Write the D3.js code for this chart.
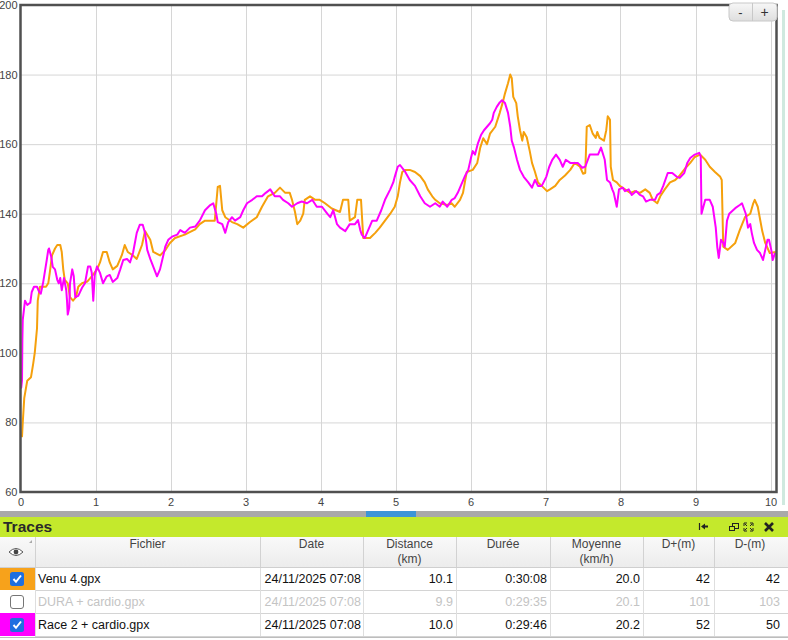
<!DOCTYPE html>
<html>
<head>
<meta charset="utf-8">
<script src="https://cdn.jsdelivr.net/npm/d3@7"></script>
<style>
  html, body { margin: 0; padding: 0; background: #fff; }
  svg { display: block; font-family: Arial, "Liberation Sans", sans-serif; }
</style>
</head>
<body>
<svg id="chart" width="788" height="640"></svg>
<script>
// ---------------- DATA ----------------
const yTicks = [60, 80, 100, 120, 140, 160, 180, 200];
const xTicks = [0, 1, 2, 3, 4, 5, 6, 7, 8, 9, 10];

// Venu 4.gpx (orange) – distance (km) / heart rate
const venuKm = [0.00,0.02,0.03,0.05,0.09,0.14,0.17,0.19,0.22,0.23,0.26,0.34,0.37,0.39,0.42,0.46,0.49,0.53,0.55,0.57,0.59,0.63,0.66,0.70,0.74,0.77,0.82,0.89,0.95,1.02,1.06,1.10,1.15,1.19,1.23,1.29,1.35,1.39,1.43,1.50,1.55,1.62,1.66,1.73,1.77,1.86,1.93,1.99,2.06,2.19,2.33,2.39,2.46,2.59,2.63,2.66,2.69,2.73,2.82,2.89,2.97,3.06,3.15,3.22,3.30,3.39,3.46,3.53,3.59,3.62,3.66,3.69,3.73,3.77,3.79,3.86,3.93,3.99,4.06,4.15,4.26,4.30,4.37,4.39,4.46,4.49,4.54,4.57,4.66,4.73,4.79,4.86,4.93,4.99,5.03,5.06,5.09,5.13,5.19,5.26,5.33,5.39,5.43,5.49,5.53,5.59,5.69,5.75,5.79,5.86,5.90,5.93,5.95,6.03,6.09,6.13,6.17,6.22,6.26,6.33,6.39,6.43,6.46,6.50,6.53,6.55,6.57,6.61,6.63,6.66,6.69,6.71,6.75,6.79,6.82,6.86,6.90,6.95,7.02,7.06,7.13,7.19,7.26,7.33,7.39,7.46,7.50,7.53,7.55,7.59,7.63,7.67,7.69,7.72,7.78,7.81,7.83,7.86,7.87,7.90,7.95,7.99,8.06,8.13,8.19,8.26,8.33,8.39,8.43,8.49,8.53,8.59,8.66,8.73,8.79,8.86,8.93,8.99,9.06,9.13,9.19,9.26,9.33,9.35,9.37,9.43,9.53,9.59,9.66,9.73,9.77,9.79,9.83,9.89,9.93,9.99,10.07];
const venuHr = [76,76,80,87,92,93,97,100,107,115,119,119,120,123,128,130,131,131,129,124,121,120,116,115,116,119,120,120.5,122,124,126,129,129,126,124,125,128,131,129,128,127,131,135,132.5,129,128,129.5,131.5,133,134,135.5,137,138,138,147.7,148,141,139,137.6,137,136,137.6,139,142,145,146,147.5,146,146,144,140.5,137,138,140,144,145,144,144,143,141.5,140.5,144,144,138,139,144,144,133,133,134.5,136,138,140,142,145,149,152,152.6,152.6,152,150.8,149,147,145,144,143,142.5,143,142,144,146,149.7,152,152.6,154.6,159,161.7,160,163,165,169,172,174.6,177.5,180,179,173.6,171.8,168,164,161,163.5,162,158,154.6,152,149,148,146.5,147,148,149.7,151,152.6,154.6,153.5,151.5,151.7,165,165.5,163,161.8,163.5,161.8,161,164,168,167,153.5,149.7,149,148,147,146,146.5,146,147,146,144,143,145,147,149,149.7,151,153,154.6,156.3,157,155.5,153.5,152,150.6,149.7,130.5,129.6,131.6,135.3,139,140,143,144,142,135,131.6,128.7,129];

// Race 2 + cardio.gpx (magenta) – distance (km) / heart rate
const raceKm = [0.00,0.01,0.02,0.025,0.03,0.06,0.09,0.13,0.15,0.18,0.22,0.25,0.27,0.30,0.33,0.35,0.37,0.38,0.41,0.43,0.46,0.49,0.51,0.53,0.55,0.58,0.61,0.62,0.63,0.65,0.66,0.69,0.71,0.73,0.77,0.82,0.86,0.90,0.93,0.95,0.97,0.99,1.02,1.06,1.10,1.15,1.19,1.23,1.29,1.33,1.37,1.42,1.46,1.50,1.55,1.59,1.63,1.66,1.69,1.73,1.77,1.82,1.86,1.90,1.93,1.97,2.02,2.09,2.13,2.19,2.26,2.33,2.39,2.46,2.53,2.57,2.61,2.63,2.69,2.73,2.77,2.82,2.86,2.93,2.97,3.02,3.09,3.15,3.22,3.27,3.33,3.39,3.46,3.50,3.57,3.62,3.69,3.75,3.82,3.89,3.95,4.02,4.09,4.13,4.17,4.22,4.26,4.33,4.39,4.46,4.50,4.53,4.55,4.59,4.63,4.69,4.75,4.81,4.86,4.93,4.97,4.99,5.03,5.06,5.13,5.19,5.26,5.33,5.39,5.46,5.53,5.59,5.63,5.69,5.75,5.79,5.83,5.89,5.93,5.97,6.01,6.03,6.06,6.10,6.14,6.18,6.22,6.26,6.29,6.31,6.35,6.39,6.42,6.46,6.50,6.53,6.55,6.58,6.62,6.66,6.71,6.77,6.82,6.86,6.90,6.95,7.01,7.05,7.09,7.14,7.19,7.23,7.27,7.33,7.38,7.43,7.49,7.53,7.59,7.66,7.70,7.74,7.79,7.82,7.86,7.89,7.91,7.94,7.95,7.98,8.03,8.06,8.11,8.15,8.21,8.26,8.30,8.34,8.39,8.46,8.49,8.53,8.57,8.63,8.69,8.75,8.79,8.85,8.89,8.93,8.99,9.05,9.07,9.08,9.13,9.19,9.23,9.27,9.29,9.31,9.34,9.37,9.39,9.42,9.45,9.53,9.59,9.62,9.67,9.70,9.73,9.75,9.78,9.82,9.86,9.90,9.93,9.96,9.98,10.01,10.03,10.06];
const raceHr = [90,90,92,104,109.5,115,113.8,114.4,117.5,119,119,117.5,117,120,124,126.7,129.6,130,127.6,124.7,124,121,120,121.5,118,121.5,118,115,111,113,120,124,122,116,116.4,118.7,120,124.8,124.8,123,115,122.4,124.8,123,120,122,122.4,120.4,121.5,124,126.7,127,126,128.7,134.5,136.8,136.8,134.5,129.6,127,124.8,122,124,127.6,130.5,132.5,133.4,134,135.3,134.5,136,136.3,138,141,142.5,143,140,137.6,137,134.5,137.6,139,138,139,141,143,144,145,145,146,147,145,145,144,143,142,143,143.5,143,144,142,142,140,139,141,137,136,135,137,137,138.2,135.3,134,133,135,138,138,141,144,147,149,150.6,153.5,154,152,149.7,148,145,143,142,143,142,143.5,142,144,144.5,146,149,151,152.6,156.4,158,157,160.3,162.6,164,165,166,167,169,170.7,172,172.6,171.8,169,165,161,159,155.5,152.6,150.6,149,147.5,149.7,148,148,150.6,153.5,155.5,157,155.5,153.5,155.5,154.6,154.6,154.6,153.2,153.5,157,157,157,159,155.5,149.7,149,147,146,143,142,147,147.5,146.5,147,145.4,146.5,145.4,145,143.5,144,144,145.4,146,148,151.7,151.7,150.6,150.3,151.7,154.6,156,157,157.5,156.4,140,144,144,142,136,130.5,127.3,132.5,131.6,130.5,138,140,141.6,142.5,143,140,136,137,134.5,131.6,129.6,128.7,126.7,129.6,132.5,132.5,129.6,126.7,128.7];

// Table
const traceFiles = ["Venu 4.gpx", "DURA + cardio.gpx", "Race 2 + cardio.gpx"];
const traceColors = ["#f7a21b", null, "#ff00ff"];
const traceVisible = [true, false, true];
const traceDates = ["24/11/2025 07:08", "24/11/2025 07:08", "24/11/2025 07:08"];
const traceDistance = ["10.1", "9.9", "10.0"];
const traceDuration = ["0:30:08", "0:29:35", "0:29:46"];
const traceSpeed = ["20.0", "20.1", "20.2"];
const traceDplus = ["42", "101", "52"];
const traceDminus = ["42", "103", "50"];
const headers = [["Fichier"], ["Date"], ["Distance", "(km)"], ["Durée"], ["Moyenne", "(km/h)"], ["D+(m)"], ["D-(m)"]];

// ---------------- CHART ----------------
const svg = d3.select("#chart");
const x = d3.scaleLinear().domain([0, 10.08]).range([20.5, 776.5]);
const y = d3.scaleLinear().domain([60, 200]).range([492, 5]);

// grid
const grid = svg.append("g");
grid.selectAll(".gy").data(yTicks.filter(d => d > 60 && d < 200)).join("line")
  .attr("x1", x.range()[0]).attr("x2", x.range()[1])
  .attr("y1", d => y(d) + 0.5).attr("y2", d => y(d) + 0.5)
  .attr("stroke", "#d6d6d6").attr("stroke-width", 1);
grid.selectAll(".gx").data(xTicks.filter(d => d > 0)).join("line")
  .attr("x1", d => Math.round(x(d)) + 0.5).attr("x2", d => Math.round(x(d)) + 0.5)
  .attr("y1", y(200)).attr("y2", y(60))
  .attr("stroke", "#d6d6d6").attr("stroke-width", 1);

// lines
const line = (km, hr) => d3.line().x((d, i) => x(km[i])).y(d => y(d)).curve(d3.curveLinear)(hr);
svg.append("path").attr("d", line(venuKm, venuHr))
  .attr("fill", "none").attr("stroke", "#f5a00c").attr("stroke-width", 2).attr("stroke-linejoin", "round");
svg.append("path").attr("d", line(raceKm, raceHr))
  .attr("fill", "none").attr("stroke", "#ff00ff").attr("stroke-width", 2).attr("stroke-linejoin", "round");

// frame
svg.append("rect")
  .attr("x", x.range()[0]).attr("y", y(200))
  .attr("width", x.range()[1] - x.range()[0]).attr("height", y(60) - y(200))
  .attr("fill", "none").attr("stroke", "#505050").attr("stroke-width", 2.5);

// axes
const yAxis = svg.append("g").attr("transform", `translate(${x.range()[0]},0)`)
  .call(d3.axisLeft(y).tickValues(yTicks).tickSize(0).tickPadding(3));
yAxis.select(".domain").remove();
yAxis.selectAll("text").attr("font-size", 11).attr("fill", "#444").attr("font-family", "Arial, Liberation Sans, sans-serif");

const xAxis = svg.append("g").attr("transform", `translate(0,${y(60)})`)
  .call(d3.axisBottom(x).tickValues(xTicks).tickSize(0).tickPadding(6).tickFormat(d3.format("d")));
xAxis.select(".domain").remove();
xAxis.selectAll("text").attr("font-size", 11).attr("fill", "#444").attr("font-family", "Arial, Liberation Sans, sans-serif");

// zoom buttons
const defs = svg.append("defs");
const bg = defs.append("linearGradient").attr("id", "btn").attr("x1", 0).attr("x2", 0).attr("y1", 0).attr("y2", 1);
bg.append("stop").attr("offset", "0").attr("stop-color", "#f7f7f7");
bg.append("stop").attr("offset", "1").attr("stop-color", "#dedede");
svg.append("rect").attr("x", 729).attr("y", 3).attr("width", 48).attr("height", 18).attr("rx", 4)
  .attr("fill", "url(#btn)").attr("stroke", "#c8c8c8");
svg.append("line").attr("x1", 752.5).attr("x2", 752.5).attr("y1", 3).attr("y2", 21).attr("stroke", "#c8c8c8");
svg.append("text").attr("x", 740.5).attr("y", 17).attr("text-anchor", "middle").attr("font-size", 13).attr("fill", "#333").text("-");
svg.append("text").attr("x", 764.5).attr("y", 17).attr("text-anchor", "middle").attr("font-size", 14).attr("fill", "#333").text("+");

// right side faint panel edge
svg.append("rect").attr("x", 782).attr("y", 10).attr("width", 3).attr("height", 495).attr("fill", "#cfe9df");

// ---------------- PANEL ----------------
svg.append("rect").attr("x", 0).attr("y", 511).attr("width", 788).attr("height", 6).attr("fill", "#a9a9a9");
svg.append("rect").attr("x", 366).attr("y", 511).attr("width", 50).attr("height", 6).attr("fill", "#3d95d6");
svg.append("rect").attr("x", 0).attr("y", 517).attr("width", 788).attr("height", 20).attr("fill", "#c4e92c");
svg.append("text").attr("x", 3).attr("y", 532).attr("font-size", 15.5).attr("font-weight", "bold").attr("fill", "#2a2a2a").text("Traces");

// panel icons
const ic = svg.append("g").attr("fill", "#222").attr("stroke", "#222");
ic.append("line").attr("x1", 699.5).attr("x2", 699.5).attr("y1", 523).attr("y2", 530).attr("stroke-width", 1.2);
ic.append("path").attr("d", "M701,526.5 L705,523.5 L705,525.5 L708,525.5 L708,527.5 L705,527.5 L705,529.5 Z").attr("stroke", "none");
ic.append("rect").attr("x", 732.5).attr("y", 523.5).attr("width", 6).attr("height", 5).attr("fill", "none").attr("stroke-width", 1);
ic.append("rect").attr("x", 729.5).attr("y", 526.5).attr("width", 5).attr("height", 4).attr("fill", "#c4e92c").attr("stroke-width", 1);
ic.append("path").attr("d", "M744,523 l3,0 M744,523 l0,3 M753,523 l-3,0 M753,523 l0,3 M744,531 l3,0 M744,531 l0,-3 M753,531 l-3,0 M753,531 l0,-3 M745,524 l2,2 M752,524 l-2,2 M745,530 l2,-2 M752,530 l-2,-2")
  .attr("fill", "none").attr("stroke-width", 1);
ic.append("path").attr("d", "M765,523 L773,531 M773,523 L765,531").attr("stroke-width", 2.6).attr("fill", "none");

// table header
const hg = defs.append("linearGradient").attr("id", "hdr").attr("x1", 0).attr("x2", 0).attr("y1", 0).attr("y2", 1);
hg.append("stop").attr("offset", "0").attr("stop-color", "#f9f9f9");
hg.append("stop").attr("offset", "1").attr("stop-color", "#ececec");
svg.append("rect").attr("x", 0).attr("y", 537).attr("width", 788).attr("height", 30).attr("fill", "url(#hdr)");

const colEdges = [0, 35, 260, 363, 456, 550, 643, 714, 786];
const tbl = svg.append("g");
tbl.selectAll(".hv").data(colEdges.slice(1, -1)).join("line")
  .attr("x1", d => d + 0.5).attr("x2", d => d + 0.5).attr("y1", 537).attr("y2", 567)
  .attr("stroke", "#d2d2d2");
headers.forEach((lines, i) => {
  const cx = (colEdges[i + 1] + colEdges[i + 2]) / 2;
  lines.forEach((t, j) => {
    tbl.append("text").attr("x", cx).attr("y", 548 + j * 15).attr("text-anchor", "middle")
      .attr("font-size", 12).attr("fill", "#444").text(t);
  });
});
tbl.append("path").attr("d", "M9,552 Q16,545 23,552 Q16,559 9,552 Z").attr("fill", "#fff").attr("stroke", "#555").attr("stroke-width", 1);
tbl.append("circle").attr("cx", 16).attr("cy", 552).attr("r", 2.4).attr("fill", "#444");
tbl.append("path").attr("d", "M29,543 L32,540 L32,543 Z").attr("fill", "#aaa");

// rows
const rowTop = [567, 590, 613];
const rowH = 23;
traceFiles.forEach((f, i) => {
  const top = rowTop[i];
  const col = traceVisible[i] ? "#111" : "#c4c4c4";
  if (traceColors[i]) {
    tbl.append("rect").attr("x", 0).attr("y", top).attr("width", 35).attr("height", rowH).attr("fill", traceColors[i]);
  }
  if (traceVisible[i]) {
    tbl.append("rect").attr("x", 10).attr("y", top + 5).attr("width", 14).attr("height", 14).attr("rx", 2.5).attr("fill", "#1f6fe0");
    tbl.append("path").attr("d", `M13.5,${top + 12} L16,${top + 14.8} L21,${top + 8.5}`)
      .attr("fill", "none").attr("stroke", "#fff").attr("stroke-width", 2);
  } else {
    tbl.append("rect").attr("x", 10.5).attr("y", top + 5.5).attr("width", 13).attr("height", 13).attr("rx", 2.5)
      .attr("fill", "#fff").attr("stroke", "#767676");
  }
  const base = top + 16;
  tbl.append("text").attr("x", 38).attr("y", base).attr("font-size", 12.5).attr("fill", col).text(f);
  const vals = [traceDates[i], traceDistance[i], traceDuration[i], traceSpeed[i], traceDplus[i], traceDminus[i]];
  const rights = [361, 453, 547, 640, 710, 780];
  vals.forEach((v, k) => {
    tbl.append("text").attr("x", rights[k]).attr("y", base).attr("text-anchor", "end")
      .attr("font-size", 12.5).attr("fill", col).text(v);
  });
  tbl.append("line").attr("x1", 35).attr("x2", 788).attr("y1", top + rowH + 0.5).attr("y2", top + rowH + 0.5).attr("stroke", "#d4d4d4");
  tbl.selectAll(null).data(colEdges.slice(1, -1)).join("line")
    .attr("x1", d => d + 0.5).attr("x2", d => d + 0.5).attr("y1", top).attr("y2", top + rowH)
    .attr("stroke", "#dedede");
});
tbl.append("line").attr("x1", 0).attr("x2", 788).attr("y1", 567.5).attr("y2", 567.5).attr("stroke", "#cfcfcf");
tbl.append("line").attr("x1", 0).attr("x2", 788).attr("y1", 637.5).attr("y2", 637.5).attr("stroke", "#bdbdbd");
</script>
</body>
</html>
